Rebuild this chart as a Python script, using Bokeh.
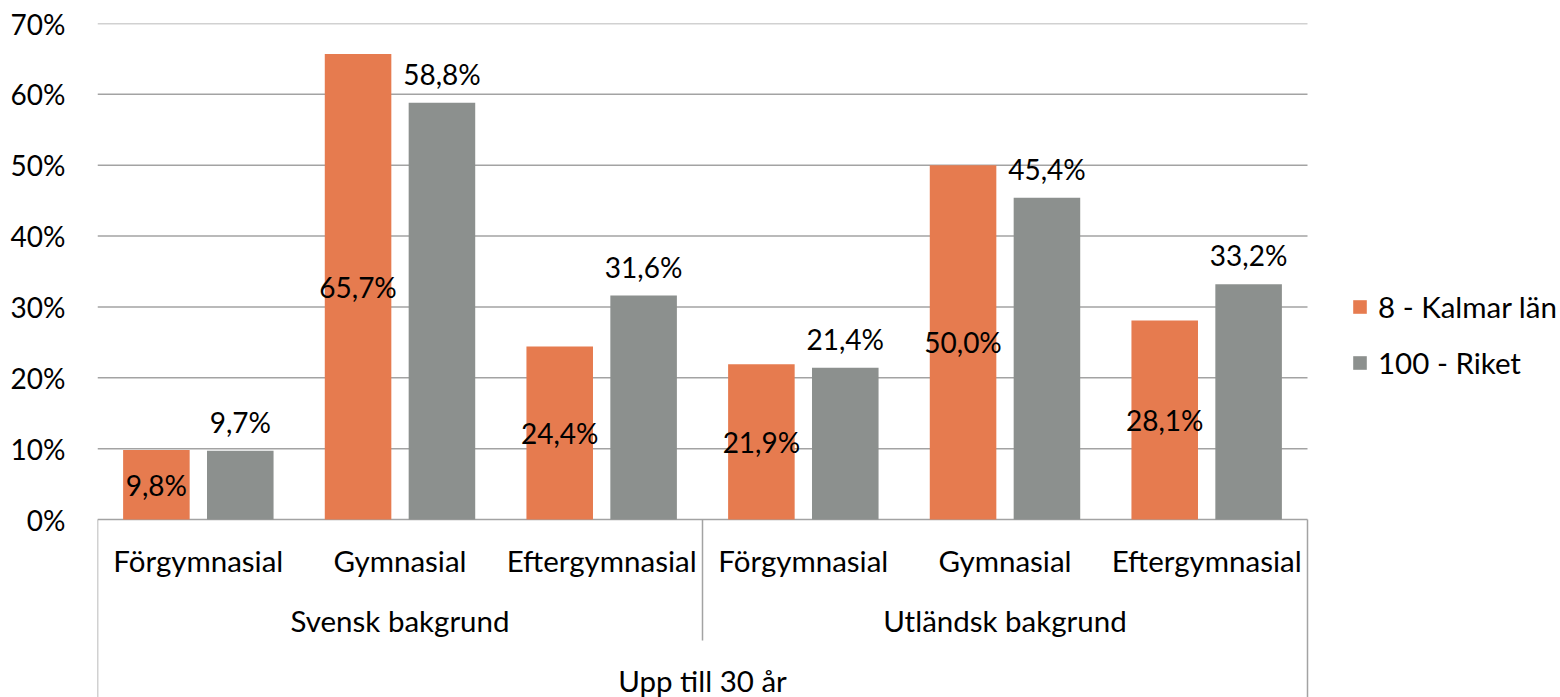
from bokeh.plotting import figure
from bokeh.models import ColumnDataSource, Range1d, FixedTicker, Legend, LegendItem
from bokeh.embed import file_html
from bokeh.resources import INLINE
from bokeh.core.properties import value

# ---- data ----
subcategories = ["Förgymnasial", "Gymnasial", "Eftergymnasial",
                 "Förgymnasial", "Gymnasial", "Eftergymnasial"]
groups = ["Svensk bakgrund", "Utländsk bakgrund"]
top_group = "Upp till 30 år"
series_names = ["8 - Kalmar län", "100 - Riket"]
kalmar = [0.098, 0.657, 0.244, 0.219, 0.500, 0.281]
riket = [0.097, 0.588, 0.316, 0.214, 0.454, 0.332]
y_ticks = [0.0, 0.1, 0.2, 0.3, 0.4, 0.5, 0.6, 0.7]
y_tick_labels = ["0%", "10%", "20%", "30%", "40%", "50%", "60%", "70%"]

ORANGE = "#E67B4F"
GREY = "#8C908E"
LINE = "#A3A3A3"
FONT = "Lato"
FS_NUM = "28px"
FS_TXT = "29.5px"

def fmt(v):
    return f"{v*100:.1f}".replace(".", ",") + "%"

n = len(subcategories)
centers = [i + 0.5 for i in range(n)]
off = 0.208
bw = 0.33
ymin = -0.2512
W, H = 1560, 697
LEFT, TOP = 97, 23
PLOT_W = 1210                      # width of the category area in px
x_end = n * (W - LEFT) / PLOT_W    # extra room on the right for the legend

src = ColumnDataSource(dict(
    xo=[c - off for c in centers],
    xg=[c + off for c in centers],
    k=kalmar, r=riket,
    kh=[v / 2 for v in kalmar],
    kl=[fmt(v) for v in kalmar],
    rl=[fmt(v) for v in riket],
))

p = figure(width=W, height=H, output_backend="svg", toolbar_location=None,
           x_range=Range1d(0, x_end), y_range=Range1d(ymin, 0.7),
           min_border_left=LEFT, min_border_right=0, min_border_top=TOP,
           min_border_bottom=0)
p.outline_line_color = None
p.xaxis.visible = False
p.xgrid.visible = False
p.ygrid.visible = False

p.yaxis.ticker = FixedTicker(ticks=y_ticks)
p.yaxis.major_label_overrides = {t: l for t, l in zip(y_ticks, y_tick_labels)}
p.yaxis.axis_line_color = None
p.yaxis.major_tick_line_color = None
p.yaxis.minor_tick_line_color = None
p.yaxis.major_label_standoff = 26
p.yaxis.major_label_text_font = FONT
p.yaxis.major_label_text_font_size = FS_NUM
p.yaxis.major_label_text_color = "black"

# horizontal gridlines over the category area only
p.segment(x0=[0] * len(y_ticks), y0=y_ticks, x1=[n] * len(y_ticks), y1=y_ticks,
          line_color=LINE, line_width=1.5)

rk = p.vbar(x="xo", top="k", bottom=0, width=bw, source=src, color=ORANGE, line_color=None)
rr = p.vbar(x="xg", top="r", bottom=0, width=bw, source=src, color=GREY, line_color=None)

# data labels
p.text(x="xo", y="kh", text="kl", source=src, text_align="center", text_baseline="middle",
       text_font=value(FONT), text_font_size=FS_NUM, text_color="black")
p.text(x="xg", y="r", text="rl", source=src, text_align="center", text_baseline="middle",
       y_offset=-29, text_font=value(FONT), text_font_size=FS_NUM, text_color="black")

# multi-level category axis drawn in data space
p.segment(x0=[0, n], y0=[0, 0], x1=[0, n], y1=[ymin, ymin], line_color=LINE, line_width=1.5)
p.segment(x0=[n / 2], y0=[0], x1=[n / 2], y1=[-0.1708], line_color=LINE, line_width=1.5)

p.text(x=centers, y=[0] * n, text=subcategories, y_offset=41, text_align="center",
       text_baseline="middle", text_font=value(FONT), text_font_size=FS_TXT, text_color="black")
p.text(x=[n / 4, 3 * n / 4], y=[0, 0], text=groups, y_offset=101, text_align="center",
       text_baseline="middle", text_font=value(FONT), text_font_size=FS_TXT, text_color="black")
p.text(x=[n / 2], y=[0], text=[top_group], y_offset=161, text_align="center",
       text_baseline="middle", text_font=value(FONT), text_font_size=FS_TXT, text_color="black")

legend = Legend(items=[LegendItem(label=series_names[0], renderers=[rk]),
                       LegendItem(label=series_names[1], renderers=[rr])],
                location=(1254, 317), orientation="vertical")
legend.border_line_color = None
legend.background_fill_alpha = 0
legend.margin = 0
legend.padding = 0
legend.glyph_width = 17
legend.glyph_height = 17
legend.label_height = 20
legend.spacing = 21
legend.label_standoff = 10
legend.label_text_font = FONT
legend.label_text_font_size = FS_TXT
legend.label_text_color = "black"
p.add_layout(legend)

open("out.html", "w").write(file_html(p, INLINE))
